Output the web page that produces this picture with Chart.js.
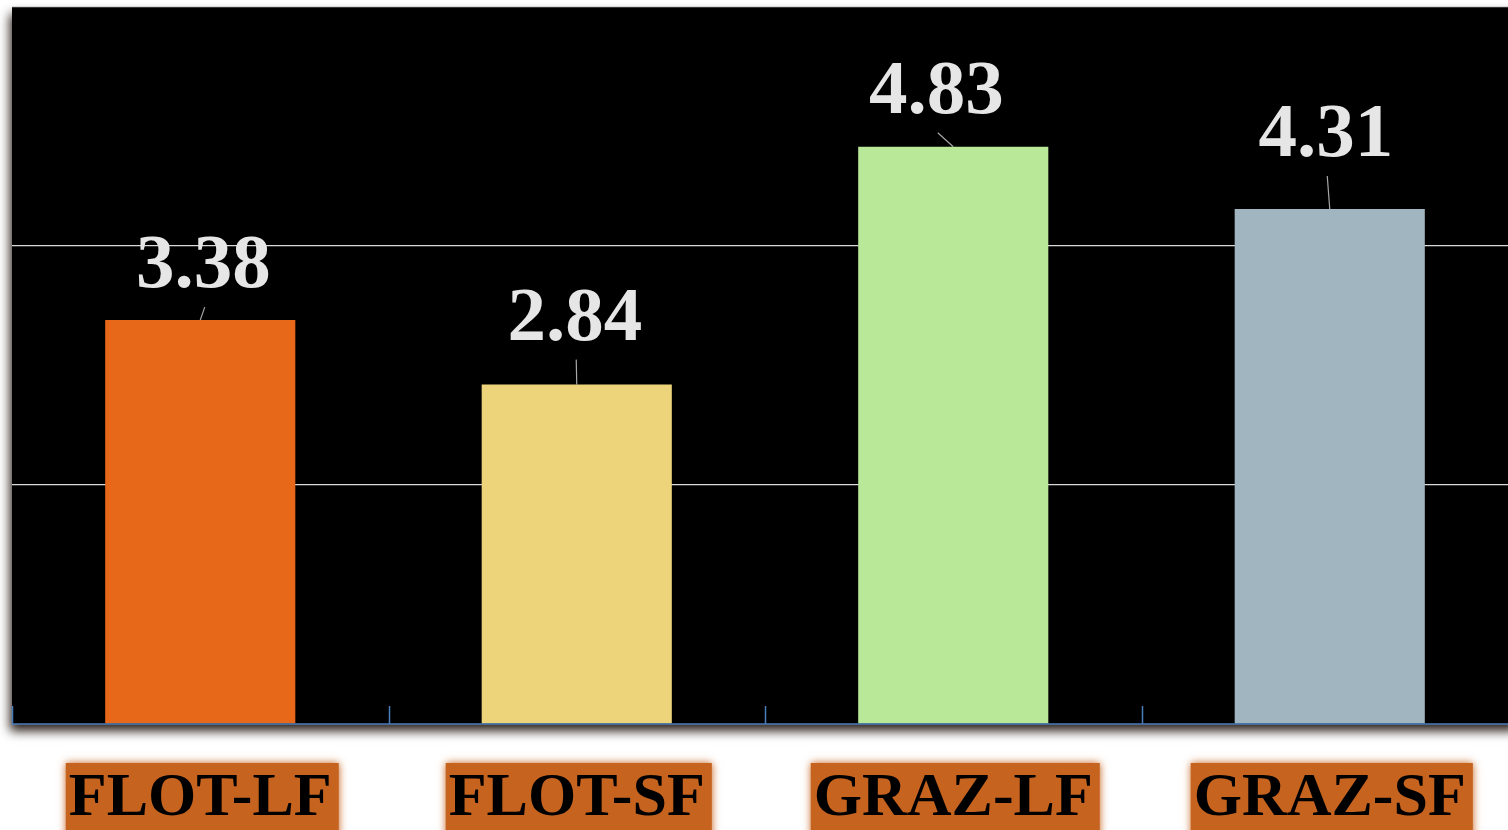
<!DOCTYPE html>
<html>
<head>
<meta charset="utf-8">
<script src="https://cdn.jsdelivr.net/npm/chart.js@4"></script>
<style>
  html, body { margin: 0; padding: 0; background: #fff; overflow: hidden; }
  #wrap { position: absolute; left: 0; top: 0; width: 1520px; height: 830px; }
</style>
</head>
<body>
<div id="wrap"><canvas id="barChart" width="1520" height="830"></canvas></div>
<script>
// chart data
var categories = ['FLOT-LF', 'FLOT-SF', 'GRAZ-LF', 'GRAZ-SF'];
var values = [3.38, 2.84, 4.83, 4.31];
var barColors = ['#e8681a', '#edd47a', '#b9e898', '#a1b5c0'];
var yTicks = [0, 2, 4, 6];

// where each value label sits relative to the top centre of its bar
var labelOffsets = [[3, -33], [-2, -45], [-17, -34], [-4, -53]];

var serif = "'Liberation Serif', 'Times New Roman', serif";
var axisBlue = '#4a7ebb';

// black plot panel with a soft drop shadow, orange boxes behind category names
var panelPlugin = {
    id: 'panel',
    beforeDraw: function(chart) {
        var ctx = chart.ctx, a = chart.chartArea, x = chart.scales.x;
        ctx.save();
        ctx.shadowColor = 'rgba(20,8,0,0.9)';
        ctx.shadowBlur = 10;
        ctx.shadowOffsetX = -2;
        ctx.shadowOffsetY = 7;
        ctx.fillStyle = '#000';
        ctx.fillRect(a.left, a.top, a.right - a.left, a.bottom - a.top);
        ctx.restore();

        ctx.save();
        ctx.font = 'bold 62px ' + serif;
        ctx.fillStyle = '#c5631f';
        ctx.shadowColor = '#c5631f';
        ctx.shadowBlur = 8;
        categories.forEach(function(c, i) {
            var w = ctx.measureText(c).width;
            var cx = x.getPixelForValue(i);
            ctx.fillRect(cx - w / 2 - 3, 763, w + 10, 80);
        });
        ctx.restore();
    },
    afterDatasetsDraw: function(chart) {
        var ctx = chart.ctx, a = chart.chartArea, x = chart.scales.x;
        var meta = chart.getDatasetMeta(0);
        var step = (a.right - a.left) / categories.length;

        // baseline and small blue marks between categories
        ctx.save();
        ctx.strokeStyle = axisBlue;
        ctx.lineWidth = 1.5;
        ctx.beginPath();
        ctx.moveTo(a.left, a.bottom);
        ctx.lineTo(a.right, a.bottom);
        ctx.stroke();
        for (var i = 0; i < categories.length; i++) {
            var px = Math.round(x.getPixelForValue(i) - step / 2) + 0.5;
            ctx.beginPath();
            ctx.moveTo(px, a.bottom - 18);
            ctx.lineTo(px, a.bottom);
            ctx.stroke();
        }
        ctx.restore();

        // value labels with leader lines
        ctx.save();
        ctx.font = 'bold 77px ' + serif;
        ctx.fillStyle = '#e6e6e6';
        ctx.textAlign = 'center';
        ctx.textBaseline = 'alphabetic';
        meta.data.forEach(function(bar, i) {
            var lx = bar.x + labelOffsets[i][0];
            var ly = bar.y + labelOffsets[i][1];
            ctx.fillText(values[i].toFixed(2), lx, ly);
            ctx.strokeStyle = '#a6a6a6';
            ctx.lineWidth = 1.2;
            ctx.beginPath();
            ctx.moveTo(lx + 1.5, ly + 20);
            ctx.lineTo(bar.x, bar.y);
            ctx.stroke();
        });
        ctx.restore();
    }
};

var ctx = document.getElementById('barChart').getContext('2d');
new Chart(ctx, {
    type: 'bar',
    data: {
        labels: categories,
        datasets: [{
            data: values,
            backgroundColor: barColors,
            borderWidth: 0,
            barPercentage: 0.505,
            categoryPercentage: 1
        }]
    },
    plugins: [panelPlugin],
    options: {
        responsive: false,
        animation: false,
        layout: { padding: { left: 12, top: 7, right: 2, bottom: 0 } },
        plugins: { legend: { display: false }, tooltip: { enabled: false } },
        scales: {
            x: {
                grid: { display: false },
                border: { display: false },
                ticks: {
                    color: '#000',
                    padding: 30,
                    maxRotation: 0,
                    font: { family: serif, size: 62, weight: 'bold' }
                },
                afterFit: function(scale) { scale.height = 106; }
            },
            y: {
                min: yTicks[0],
                max: yTicks[yTicks.length - 1],
                afterBuildTicks: function(scale) {
                    scale.ticks = yTicks.map(function(v) { return { value: v }; });
                },
                ticks: { display: false },
                border: { display: false },
                grid: {
                    color: function(c) { return c.tick && c.tick.value === 0 ? 'rgba(0,0,0,0)' : '#d9d9d9'; },
                    lineWidth: 1.2,
                    drawTicks: false
                },
                afterFit: function(scale) { scale.width = 0; }
            }
        }
    }
});
</script>
</body>
</html>
